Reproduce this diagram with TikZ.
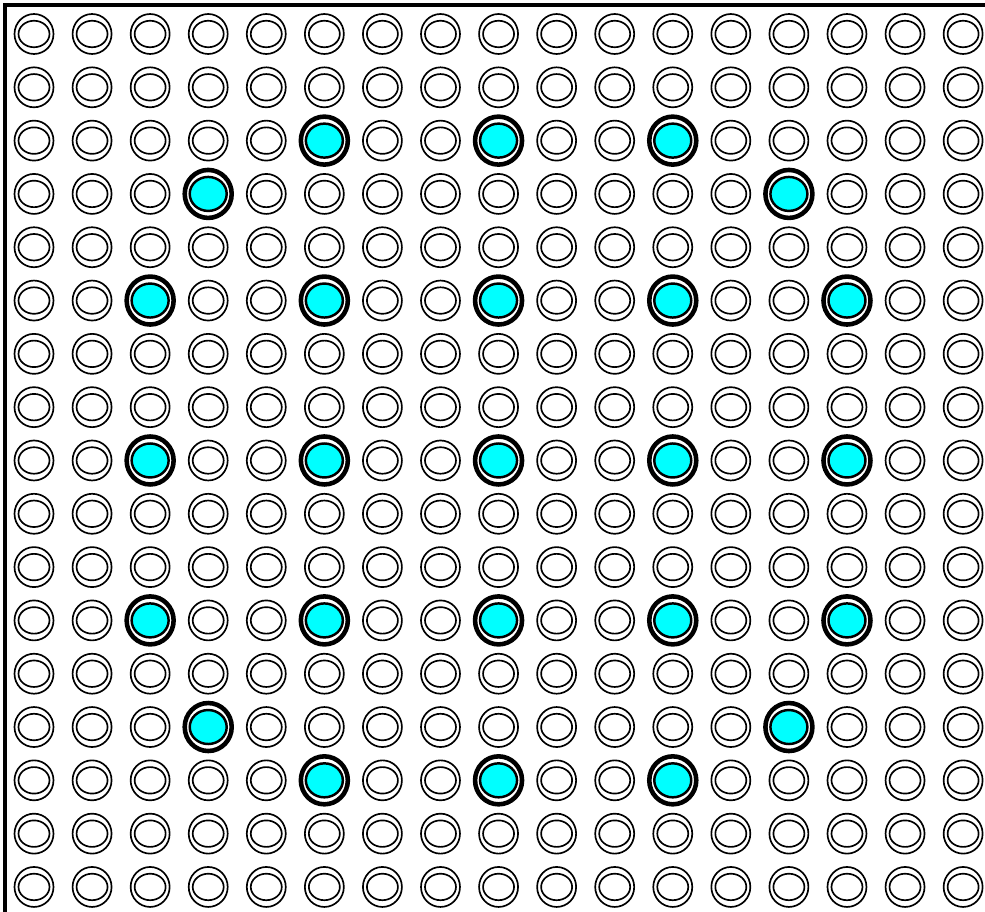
\documentclass[tikz,border=0pt]{standalone}
\usetikzlibrary{shapes.geometric}
\definecolor{dopant}{RGB}{0,255,255}
\tikzset{
  ring/.style={ellipse, draw, line width=0.95pt, inner sep=0pt, minimum width=0.78cm, minimum height=0.80cm},
  core/.style={ellipse, draw, line width=0.95pt, inner sep=0pt, minimum width=0.62cm, minimum height=0.53cm},
  hotring/.style={ellipse, draw, fill=white, line width=2.6pt, inner sep=0pt, minimum width=0.94cm, minimum height=0.96cm},
  hotcore/.style={ellipse, draw, fill=dopant, line width=1.4pt, inner sep=0pt, minimum width=0.74cm, minimum height=0.68cm},
  frame/.style={line width=2.4pt},
}
\begin{document}
\begin{tikzpicture}[x=0.02cm,y=-0.02cm]
  \useasboundingbox (0,0) rectangle (985,912);
  % frame on two sides
  \coordinate (bl) at (5,912);
  \coordinate (tl) at (5,5);
  \coordinate (tr) at (985,5);
  \draw[frame] (bl) -- (tl) -- (tr);
  % the lattice
  \foreach \i in {0,...,16} {
    \foreach \j in {0,...,16} {
      \node[ring] (r-\i-\j) at (34+58.07*\i, 34+53.31*\j) {};
      \node[core] (c-\i-\j) at (r-\i-\j.center) {};
    }
  }
  % marked sites
  \foreach \i/\j in {5/2,8/2,11/2,3/3,13/3,2/5,5/5,8/5,11/5,14/5,
                     2/8,5/8,8/8,11/8,14/8,2/11,5/11,8/11,11/11,14/11,
                     3/13,13/13,5/14,8/14,11/14} {
    \node[hotring] (h-\i-\j) at (r-\i-\j.center) {};
    \node[hotcore] (d-\i-\j) at (h-\i-\j.center) {};
  }
\end{tikzpicture}
\end{document}
